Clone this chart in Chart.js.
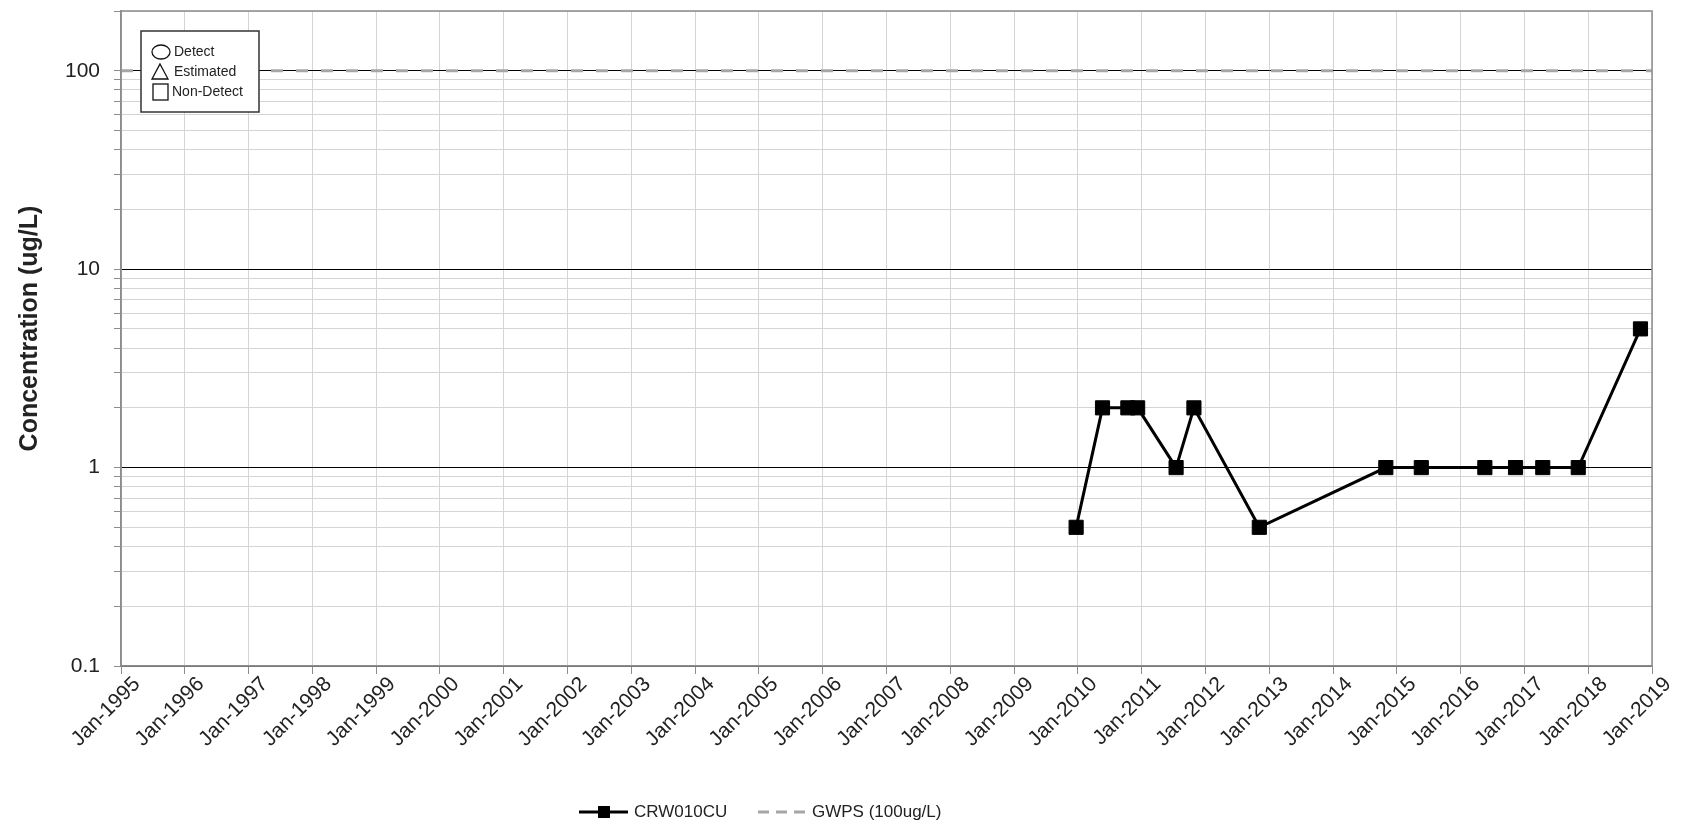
<!DOCTYPE html>
<html>
<head>
<meta charset="utf-8">
<title>CRW010CU</title>
<script src="https://cdn.jsdelivr.net/npm/chart.js@4.4.1/dist/chart.umd.min.js"></script>
<style>
  html, body { margin: 0; padding: 0; background: #fff; }
  #wrap { width: 1699px; height: 828px; position: relative; }
</style>
</head>
<body>
<div id="wrap"><canvas id="concChart"></canvas></div>
<script>
// CRW010CU results (ug/L), all plotted as non-detects
const sampleDates = ['2009-12-22', '2010-05-22', '2010-10-14', '2010-12-09', '2011-07-17', '2011-10-27',
    '2012-11-05', '2014-10-30', '2015-05-21', '2016-05-19', '2016-11-11', '2017-04-16', '2017-11-05', '2018-10-27'];
const crw010cu = [0.5, 2, 2, 2, 1, 2, 0.5, 1, 1, 1, 1, 1, 1, 5];

// GWPS limit runs across the whole axis
const gwpsYears = [1995, 2019];
const gwpsValues = [100, 100];

const firstYear = 1995;
const lastYear = 2019;
const decadeLabels = [0.1, 1, 10, 100];
const yMin = 0.1;
const yMax = 200;
const yTitle = 'Concentration (ug/L)';
const markerTypes = ['Detect', 'Estimated', 'Non-Detect'];

const FONT = "'Liberation Sans', Arial, sans-serif";
const TEXT = '#222';
const MINOR = '#d4d4d4';
const FRAME = '#8c8c8c';

// date string -> decimal year
function toYear(s) {
    const d = new Date(s + 'T00:00:00Z');
    const y = d.getUTCFullYear();
    const start = Date.UTC(y, 0, 1);
    const end = Date.UTC(y + 1, 0, 1);
    return y + (d.getTime() - start) / (end - start);
}

const seriesPoints = sampleDates.map((d, i) => ({ x: toYear(d), y: crw010cu[i] }));
const gwpsPoints = gwpsYears.map((y, i) => ({ x: y, y: gwpsValues[i] }));

const chartExtras = {
    id: 'chartExtras',
    afterDraw(chart) {
        const c = chart.ctx;
        const a = chart.chartArea;
        c.save();

        // frame round the plot
        c.strokeStyle = FRAME;
        c.lineWidth = 1.5;
        c.strokeRect(a.left, a.top, a.right - a.left, a.bottom - a.top);

        // y axis title, sits a little above the middle like the original
        c.save();
        c.translate(37, (a.top + a.bottom) / 2 - 10);
        c.rotate(-Math.PI / 2);
        c.fillStyle = TEXT;
        c.font = 'bold 25px ' + FONT;
        c.textAlign = 'center';
        c.textBaseline = 'alphabetic';
        c.fillText(yTitle, 0, 0);
        c.restore();

        // marker key in the top left corner
        const bx = a.left + 20, by = a.top + 20;
        c.fillStyle = '#fff';
        c.fillRect(bx, by, 118, 81);
        c.strokeStyle = '#333';
        c.lineWidth = 1.5;
        c.strokeRect(bx, by, 118, 81);
        c.lineWidth = 1.3;
        c.strokeStyle = '#111';
        c.beginPath();
        c.ellipse(bx + 20, by + 21, 9, 7, 0, 0, Math.PI * 2);
        c.stroke();
        c.beginPath();
        c.moveTo(bx + 19, by + 33);
        c.lineTo(bx + 27, by + 48);
        c.lineTo(bx + 11, by + 48);
        c.closePath();
        c.stroke();
        c.strokeRect(bx + 12, by + 53, 15, 16);
        c.fillStyle = TEXT;
        c.font = '14px ' + FONT;
        c.textBaseline = 'middle';
        c.fillText(markerTypes[0], bx + 33, by + 21);
        c.fillText(markerTypes[1], bx + 33, by + 41);
        c.fillText(markerTypes[2], bx + 31, by + 61);

        // series legend under the axis
        const ly = 812;
        c.strokeStyle = '#000';
        c.lineWidth = 3;
        c.beginPath();
        c.moveTo(579, ly);
        c.lineTo(628, ly);
        c.stroke();
        c.fillStyle = '#000';
        c.fillRect(598, ly - 6, 12, 12);
        c.strokeStyle = '#a6a6a6';
        c.setLineDash([11, 7]);
        c.beginPath();
        c.moveTo(758, ly);
        c.lineTo(805, ly);
        c.stroke();
        c.setLineDash([]);
        c.fillStyle = TEXT;
        c.font = '17px ' + FONT;
        c.fillText(chart.data.datasets[0].label, 634, ly);
        c.fillText(chart.data.datasets[1].label, 812, ly);
        c.restore();
    }
};

const ctx = document.getElementById('concChart').getContext('2d');
const concChart = new Chart(ctx, {
    type: 'line',
    data: {
        datasets: [{
            label: 'CRW010CU',
            data: seriesPoints,
            borderColor: '#000',
            backgroundColor: '#000',
            borderWidth: 3,
            pointStyle: 'rect',
            pointRadius: 10,
            pointBorderWidth: 1,
            tension: 0
        }, {
            label: 'GWPS (100ug/L)',
            data: gwpsPoints,
            borderColor: '#a6a6a6',
            borderWidth: 3,
            borderDash: [12, 13],
            pointRadius: 0
        }]
    },
    options: {
        responsive: true,
        maintainAspectRatio: false,
        animation: false,
        layout: { padding: { top: 10, right: 47, left: 0, bottom: 0 } },
        plugins: {
            legend: { display: false },
            tooltip: { enabled: false }
        },
        scales: {
            x: {
                type: 'linear',
                min: firstYear,
                max: lastYear,
                afterFit: scale => {
                    scale.height = 162;
                    scale.paddingLeft = 0;
                    scale.paddingRight = 0;
                },
                grid: { color: MINOR, tickColor: FRAME, tickLength: 8 },
                border: { color: FRAME, width: 1.5 },
                ticks: {
                    stepSize: 1,
                    autoSkip: false,
                    minRotation: 45,
                    maxRotation: 45,
                    labelOffset: 16,
                    padding: -2,
                    color: TEXT,
                    font: { family: FONT, size: 21 },
                    callback: v => 'Jan-' + v
                }
            },
            y: {
                type: 'logarithmic',
                min: yMin,
                max: yMax,
                afterFit: scale => {
                    scale.width = 121;
                    scale.paddingTop = 0;
                    scale.paddingBottom = 0;
                },
                afterBuildTicks: scale => {
                    const t = [];
                    for (let e = -1; e <= 2; e++) {
                        for (let m = 1; m <= 9; m++) {
                            const v = parseFloat((m * Math.pow(10, e)).toPrecision(2));
                            if (v <= yMax) t.push({ value: v });
                        }
                    }
                    scale.ticks = t;
                },
                grid: {
                    color: c => decadeLabels.includes(c.tick && c.tick.value) ? '#000' : MINOR,
                    tickColor: FRAME,
                    tickLength: 7
                },
                border: { color: FRAME, width: 1.5 },
                ticks: {
                    autoSkip: false,
                    padding: 14,
                    color: TEXT,
                    font: { family: FONT, size: 21 },
                    callback: v => decadeLabels.includes(v) ? String(v) : ''
                }
            }
        }
    },
    plugins: [chartExtras]
});
</script>
</body>
</html>
